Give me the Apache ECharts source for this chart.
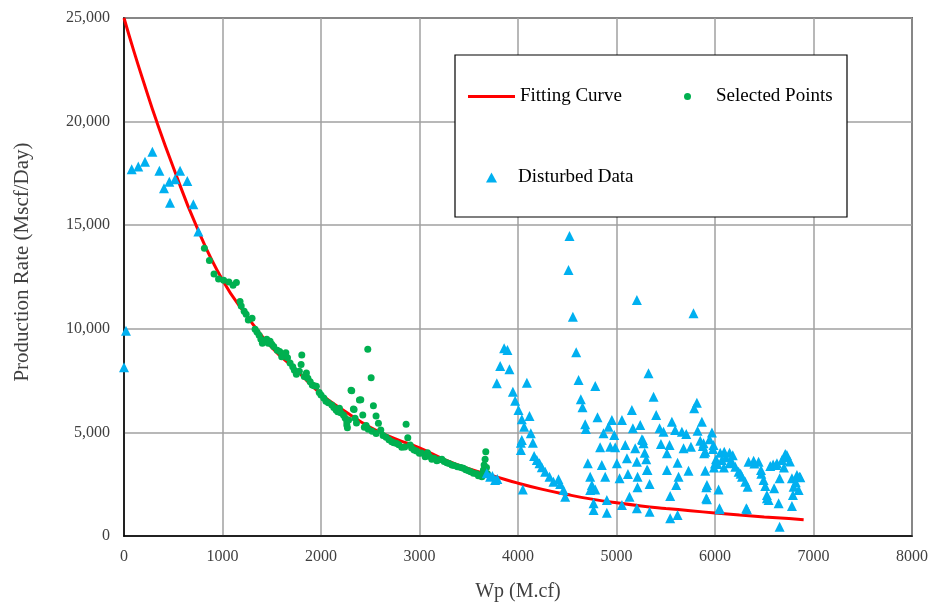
<!DOCTYPE html>
<html>
<head>
<meta charset="utf-8">
<script src="https://cdn.jsdelivr.net/npm/echarts@6/dist/echarts.min.js"></script>
<style>
html,body{margin:0;padding:0;background:#fff;}
#chart{width:938px;height:610px;}
</style>
</head>
<body>
<div id="chart"></div>
<script>
// ---- data ----
const xTickLabels = ['0','1000','2000','3000','4000','5000','6000','7000','8000'];
const yTickLabels = ['0','5,000','10,000','15,000','20,000','25,000'];

const curveX = [0,100,200,332,500,731,1000,1250,1500,1750,2000,2250,2500,2750,3000,3250,3500,3750,4000,4250,4500,4750,5000,5250,5500,5750,6000,6250,6500,6750,6900];
const curveY = [25000,23400,21900,20000,17800,15000,12350,10600,9100,8000,6850,6000,5250,4700,4250,3700,3250,2900,2550,2250,2000,1780,1600,1450,1330,1220,1110,1010,920,840,790];

const selectedPoints = [
[816,13885],[867,13300],[914,12640],[960,12400],[1012,12340],[1065,12260],[1107,12100],[1141,12240],[1178,11320],[1190,11100],
[1220,10850],[1240,10700],[1262,10420],[1300,10510],[1331,9975],[1350,9850],[1372,9690],[1390,9500],[1405,9300],[1430,9400],
[1449,9500],[1465,9300],[1483,9400],[1500,9250],[1520,9140],[1556,8960],[1580,8900],[1601,8650],[1620,8700],[1643,8840],
[1660,8600],[1686,8350],[1713,8170],[1730,8000],[1750,7810],[1780,7950],[1798,8280],[1805,8740],[1830,7700],[1852,7870],
[1867,7610],[1890,7450],[1911,7290],[1930,7250],[1953,7230],[1982,6930],[2000,6800],[2028,6660],[2050,6500],[2075,6430],
[2110,6320],[2130,6200],[2153,6080],[2170,6000],[2187,6160],[2200,5950],[2228,5840],[2245,5700],[2262,5520],[2268,5230],
[2262,5360],[2280,5600],[2305,7030],[2312,7010],[2329,6130],[2336,6110],[2346,5680],[2360,5450],[2390,6560],[2404,6580],
[2424,5840],[2440,5250],[2458,5330],[2475,9010],[2480,5150],[2509,7640],[2520,5050],[2532,6290],[2559,5790],[2560,4950],
[2583,5440],[2607,5120],[2630,4850],[2661,4760],[2690,4650],[2718,4550],[2740,4500],[2769,4470],[2790,4400],[2820,4280],
[2850,4300],[2864,5390],[2881,4745],[2905,4390],[2920,4250],[2945,4150],[2970,4100],[2999,3990],[3020,4000],[3057,3830],
[3081,4020],[3100,3850],[3125,3700],[3150,3750],[3176,3635],[3200,3680],[3227,3700],[3250,3600],[3277,3540],[3300,3500],
[3328,3430],[3350,3400],[3385,3345],[3420,3300],[3446,3265],[3470,3200],[3497,3150],[3520,3100],[3548,3025],[3580,3000],
[3598,2910],[3620,2950],[3633,2860],[3649,3185],[3656,3430],[3666,3700],[3673,4070],[3680,3300],[3690,3000]
];

const disturbedData = [
[0,8150],[20,9900],[78,17700],[145,17830],[213,18065],[288,18550],[359,17630],[406,16780],[460,17100],[518,17215],
[569,17630],[643,17135],[467,16085],[704,16010],[755,14690],
[3683,3025],[3717,2860],[3768,2700],[3740,2900],[3790,2750],
[3859,9060],[3893,8980],[3819,8200],[3913,8045],[3785,7370],[4090,7400],[3948,6965],[3971,6530],[4005,6080],[4117,5790],
[4039,5630],[4062,5275],[4130,4955],[4029,4505],[4151,4505],[4029,4150],[4164,3860],[4191,3670],[4218,3510],[4242,3315],
[4276,3105],[4320,2860],[4360,2620],[4411,2735],[4428,2510],[4462,2220],[4479,1900],[4049,2250],[4039,4630],
[4523,14480],[4513,12840],[4557,10585],[4591,8865],[4615,7530],[4784,7240],[4638,6600],[4655,6210],[4682,5390],[4689,5165],
[4807,5730],[4868,4955],[4919,5275],[4953,5600],[4977,4875],[4834,4280],[4936,4310],[4987,4280],[4709,3510],[4851,3430],
[4885,2860],[4733,2860],[4750,2460],[4733,2220],[4784,2250],[4902,1740],[4767,1580],[4767,1255],[4902,1125],[5004,3510],
[5031,2785],[5055,5600],[5089,4390],[5106,3750],[5116,2990],[5132,1900],[5156,6080],[5190,4230],[5207,3585],[5214,2860],
[5207,1335],[5241,5360],[5258,4665],[5275,4475],[5286,4020],[5302,3700],[5309,3185],[5325,7850],[5336,1175],[5055,1495],
[5207,11390],[5782,10750],[5376,6725],[5816,6435],[5789,6160],[5403,5840],[5562,5520],[5867,5520],[5664,5035],[5166,5200],
[5437,5200],[5477,5035],[5595,5115],[5708,4920],[5823,5080],[5969,4990],[5945,4665],[5268,4635],[5451,4440],[5539,4390],
[5681,4230],[5756,4310],[5884,4475],[5985,4390],[5512,3990],[5890,3990],[5620,3540],[5315,3185],[5512,3185],[5731,3150],
[5901,3150],[5630,2860],[5606,2460],[5336,2510],[5213,2350],[5911,2350],[5545,1930],[5918,1770],[6036,2250],[5620,1015],
[5545,855],[6046,1290],[6324,1290],[6656,450],
[6053,4020],[6094,4070],[6148,4020],[6026,3475],[6070,3670],[6148,3510],[6206,3345],[6240,3105],[6274,2860],[6307,2620],
[6331,2380],[6318,1335],[6341,3585],[6392,3635],[6442,3585],[6467,3185],[6493,2700],[6510,2410],[6527,1980],[6544,1740],
[6561,3380],[6629,3510],[6680,3670],[6713,3960],[6730,3800],[6656,2785],[6646,1580],[6781,2785],[6798,2380],[6791,1980],
[6781,1450],[6832,2945],[6866,2830],[6849,2220],[6046,1335],[5911,1820],[5918,2460],[5901,4070],[5877,4340],[6730,3910],
[6858,2860],[6527,1820],[6622,3430],
[6110,3800],[6180,3900],[6000,3500],[6090,3300],[6170,3600],[6260,3000],[6400,3500],[6590,3450],[6700,3300],[6760,3600],
[6820,2600],[6600,2300],[6470,3000],[5990,3300],[6010,3700],[5980,4200],[5850,4600]
];

const curveData = curveX.map((x, i) => [x, curveY[i]]);

// ---- chart ----
const FONT = '"Liberation Serif", "Times New Roman", serif';
const chart = echarts.init(document.getElementById('chart'), null, {renderer: 'canvas'});
const legendText = (padLeft) => ({fontFamily: FONT, fontSize: 19, color: '#000', padding: [0, 0, 0, padLeft]});

chart.setOption({
  animation: false,
  backgroundColor: '#fff',
  grid: {
    left: 124, right: 26, top: 18, bottom: 74,
    show: true, borderColor: '#000', borderWidth: 1.5,
    containLabel: false, outerBoundsMode: 'none'
  },
  xAxis: {
    type: 'value', min: 0, max: 8000, interval: 1000,
    name: 'Wp (M.cf)', nameLocation: 'middle', nameGap: 46,
    nameTextStyle: {fontFamily: FONT, fontSize: 20, color: '#404040'},
    axisLine: {show: true, onZero: false, lineStyle: {color: '#000', width: 1.5}},
    axisTick: {show: false},
    axisLabel: {
      fontFamily: FONT, fontSize: 16, color: '#404040', margin: 13,
      formatter: v => xTickLabels[Math.round(v / 1000)]
    },
    splitLine: {show: true, lineStyle: {color: '#a0a0a0', width: 1.5}}
  },
  yAxis: {
    type: 'value', min: 0, max: 25000, interval: 5000,
    name: 'Production Rate (Mscf/Day)', nameLocation: 'middle', nameGap: 91, nameRotate: 90,
    nameTextStyle: {fontFamily: FONT, fontSize: 21, color: '#404040', padding: [0, 0, 0, 30]},
    axisLine: {show: true, onZero: false, lineStyle: {color: '#000', width: 1.5}},
    axisTick: {show: false},
    axisLabel: {
      fontFamily: FONT, fontSize: 16, color: '#404040', margin: 14,
      formatter: v => yTickLabels[Math.round(v / 5000)]
    },
    splitLine: {show: true, lineStyle: {color: '#a0a0a0', width: 1.5}}
  },
  graphic: [{
    type: 'rect', z: 3,
    shape: {x: 455, y: 55, width: 392, height: 162},
    style: {fill: '#fff', stroke: '#000', lineWidth: 1.2}
  }],
  legend: [
    {data: [{name: 'Fitting Curve', icon: 'rect', itemStyle: {color: '#ff0000'}}],
     left: 468, top: 87, padding: 0, itemWidth: 47, itemHeight: 3, textStyle: legendText(0), z: 5},
    {data: [{name: 'Selected Points', icon: 'circle'}],
     left: 684, top: 87, padding: 0, itemWidth: 7, itemHeight: 7, textStyle: legendText(20), z: 5},
    {data: [{name: 'Disturbed Data', icon: 'triangle'}],
     left: 486, top: 168, padding: 0, itemWidth: 11, itemHeight: 10, textStyle: legendText(16), z: 5}
  ],
  series: [
    {
      name: 'Fitting Curve', type: 'line', data: curveData, smooth: true,
      showSymbol: false, symbol: 'none',
      lineStyle: {color: '#ff0000', width: 3}, itemStyle: {color: '#ff0000'}, z: 2
    },
    {
      name: 'Selected Points', type: 'scatter', data: selectedPoints,
      symbol: 'circle', symbolSize: 7, itemStyle: {color: '#00b050', opacity: 1}, z: 3
    },
    {
      name: 'Disturbed Data', type: 'scatter', data: disturbedData,
      symbol: 'triangle', symbolSize: 10, itemStyle: {color: '#00b0f0', opacity: 1}, z: 3
    }
  ]
});
</script>
</body>
</html>
